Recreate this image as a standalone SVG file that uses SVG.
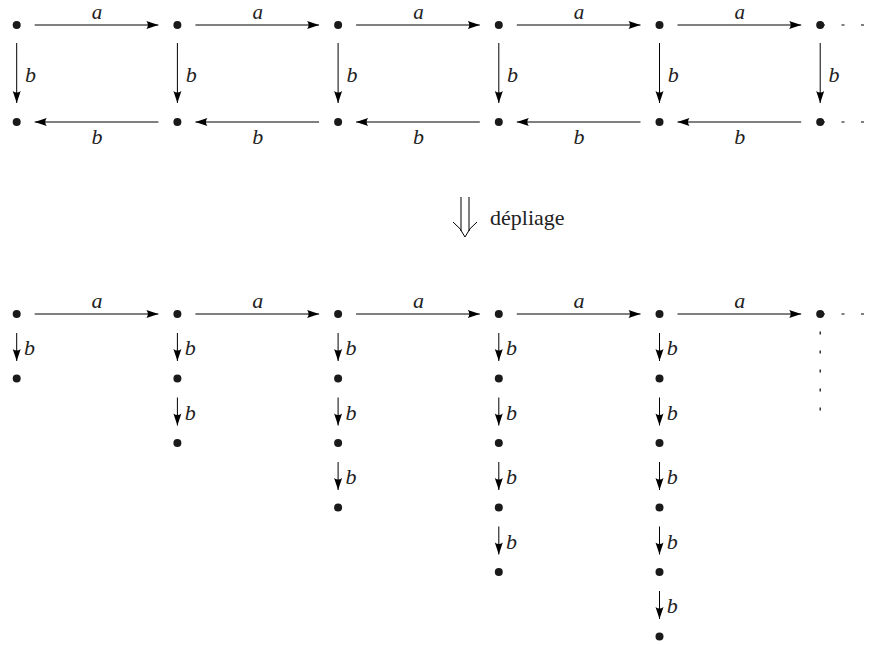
<svg xmlns="http://www.w3.org/2000/svg" width="878" height="645" viewBox="0 0 878 645">
<style>
.n{fill:#1a1a1a}
.e{stroke:#000;stroke-width:1;fill:none}
.ea{stroke:#000;stroke-width:1;fill:none;marker-end:url(#ah)}
.d{stroke:#000;stroke-width:1.2;fill:none;stroke-dasharray:3 16.5}
.dv{stroke:#000;stroke-width:1.2;fill:none;stroke-dasharray:3 16}
.l{font-family:'Liberation Serif','Times New Roman','DejaVu Serif',serif;font-style:italic;font-size:22px;fill:#222}
.lt{font-size:21px}
.lm{text-anchor:middle}
.t{font-family:'Liberation Serif','Times New Roman','DejaVu Serif',serif;font-size:22px;fill:#222}
</style>
<defs>
<marker id="ah" markerUnits="userSpaceOnUse" viewBox="-13 -5 14 10" refX="0" refY="0" markerWidth="14" markerHeight="10" orient="auto">
<path d="M0,0 L-12,-4 Q-9,0 -12,4 Z" fill="#000"/>
</marker>
</defs>
<g id="connectors">
<path class="ea" d="M34.7,25 H158.4"/>
<path class="ea" d="M195.4,25 H319.1"/>
<path class="ea" d="M356.1,25 H479.8"/>
<path class="ea" d="M516.8,25 H640.5"/>
<path class="ea" d="M677.5,25 H801.2"/>
<path class="ea" d="M16.7,43 V103"/>
<path class="ea" d="M177.4,43 V103"/>
<path class="ea" d="M338.1,43 V103"/>
<path class="ea" d="M498.8,43 V103"/>
<path class="ea" d="M659.5,43 V103"/>
<path class="ea" d="M820.2,43 V103"/>
<path class="ea" d="M158.4,122 H34.7"/>
<path class="ea" d="M319.1,122 H195.4"/>
<path class="ea" d="M479.8,122 H356.1"/>
<path class="ea" d="M640.5,122 H516.8"/>
<path class="ea" d="M801.2,122 H677.5"/>
<path class="d" d="M822,25 H866"/>
<path class="d" d="M822,122 H866"/>
<path class="d" d="M822,314 H866"/>
<path class="dv" d="M820.2,331.5 V411"/>
<path class="e" d="M461,197 V231 M469,197 V231" stroke-width="1.2"/>
<path class="e" d="M453,222 Q461,228 465,237 Q469,228 477,222" stroke-width="1.2"/>
<path class="ea" d="M34.7,314 H158.4"/>
<path class="ea" d="M195.4,314 H319.1"/>
<path class="ea" d="M356.1,314 H479.8"/>
<path class="ea" d="M516.8,314 H640.5"/>
<path class="ea" d="M677.5,314 H801.2"/>
<path class="ea" d="M16.7,333 V361"/>
<path class="ea" d="M177.4,333 V361"/>
<path class="ea" d="M177.4,397.5 V425.5"/>
<path class="ea" d="M338.1,333 V361"/>
<path class="ea" d="M338.1,397.5 V425.5"/>
<path class="ea" d="M338.1,462 V490"/>
<path class="ea" d="M498.8,333 V361"/>
<path class="ea" d="M498.8,397.5 V425.5"/>
<path class="ea" d="M498.8,462 V490"/>
<path class="ea" d="M498.8,526.5 V554.5"/>
<path class="ea" d="M659.5,333 V361"/>
<path class="ea" d="M659.5,397.5 V425.5"/>
<path class="ea" d="M659.5,462 V490"/>
<path class="ea" d="M659.5,526.5 V554.5"/>
<path class="ea" d="M659.5,591 V619"/>
</g>
<g id="labels">
<text class="l lt lm" x="97" y="19">a</text>
<text class="l lt lm" x="257.7" y="19">a</text>
<text class="l lt lm" x="418.4" y="19">a</text>
<text class="l lt lm" x="579.1" y="19">a</text>
<text class="l lt lm" x="739.8" y="19">a</text>
<text class="l" x="25" y="82">b</text>
<text class="l" x="185.7" y="82">b</text>
<text class="l" x="346.4" y="82">b</text>
<text class="l" x="507.1" y="82">b</text>
<text class="l" x="667.8" y="82">b</text>
<text class="l" x="828.5" y="82">b</text>
<text class="l lm" x="97" y="144">b</text>
<text class="l lm" x="257.7" y="144">b</text>
<text class="l lm" x="418.4" y="144">b</text>
<text class="l lm" x="579.1" y="144">b</text>
<text class="l lm" x="739.8" y="144">b</text>
<text class="t" x="490" y="225">dépliage</text>
<text class="l lm" x="97" y="308">a</text>
<text class="l lm" x="257.7" y="308">a</text>
<text class="l lm" x="418.4" y="308">a</text>
<text class="l lm" x="579.1" y="308">a</text>
<text class="l lm" x="739.8" y="308">a</text>
<text class="l" x="24" y="355">b</text>
<text class="l" x="184.7" y="355">b</text>
<text class="l" x="184.7" y="419.5">b</text>
<text class="l" x="345.4" y="355">b</text>
<text class="l" x="345.4" y="419.5">b</text>
<text class="l" x="345.4" y="484">b</text>
<text class="l" x="506.1" y="355">b</text>
<text class="l" x="506.1" y="419.5">b</text>
<text class="l" x="506.1" y="484">b</text>
<text class="l" x="506.1" y="548.5">b</text>
<text class="l" x="666.8" y="355">b</text>
<text class="l" x="666.8" y="419.5">b</text>
<text class="l" x="666.8" y="484">b</text>
<text class="l" x="666.8" y="548.5">b</text>
<text class="l" x="666.8" y="613">b</text>
</g>
<g id="nodes">
<g id="t0"><circle class="n" cx="16.7" cy="25" r="4"/></g>
<g id="t1"><circle class="n" cx="177.4" cy="25" r="4"/></g>
<g id="t2"><circle class="n" cx="338.1" cy="25" r="4"/></g>
<g id="t3"><circle class="n" cx="498.8" cy="25" r="4"/></g>
<g id="t4"><circle class="n" cx="659.5" cy="25" r="4"/></g>
<g id="t5"><circle class="n" cx="820.2" cy="25" r="4"/></g>
<g id="u0"><circle class="n" cx="16.7" cy="122" r="4"/></g>
<g id="u1"><circle class="n" cx="177.4" cy="122" r="4"/></g>
<g id="u2"><circle class="n" cx="338.1" cy="122" r="4"/></g>
<g id="u3"><circle class="n" cx="498.8" cy="122" r="4"/></g>
<g id="u4"><circle class="n" cx="659.5" cy="122" r="4"/></g>
<g id="u5"><circle class="n" cx="820.2" cy="122" r="4"/></g>
<g id="r0"><circle class="n" cx="16.7" cy="314" r="4"/></g>
<g id="r1"><circle class="n" cx="177.4" cy="314" r="4"/></g>
<g id="r2"><circle class="n" cx="338.1" cy="314" r="4"/></g>
<g id="r3"><circle class="n" cx="498.8" cy="314" r="4"/></g>
<g id="r4"><circle class="n" cx="659.5" cy="314" r="4"/></g>
<g id="r5"><circle class="n" cx="820.2" cy="314" r="4"/></g>
<g id="c0_1"><circle class="n" cx="16.7" cy="378.5" r="4"/></g>
<g id="c1_1"><circle class="n" cx="177.4" cy="378.5" r="4"/></g>
<g id="c1_2"><circle class="n" cx="177.4" cy="443" r="4"/></g>
<g id="c2_1"><circle class="n" cx="338.1" cy="378.5" r="4"/></g>
<g id="c2_2"><circle class="n" cx="338.1" cy="443" r="4"/></g>
<g id="c2_3"><circle class="n" cx="338.1" cy="507.5" r="4"/></g>
<g id="c3_1"><circle class="n" cx="498.8" cy="378.5" r="4"/></g>
<g id="c3_2"><circle class="n" cx="498.8" cy="443" r="4"/></g>
<g id="c3_3"><circle class="n" cx="498.8" cy="507.5" r="4"/></g>
<g id="c3_4"><circle class="n" cx="498.8" cy="572" r="4"/></g>
<g id="c4_1"><circle class="n" cx="659.5" cy="378.5" r="4"/></g>
<g id="c4_2"><circle class="n" cx="659.5" cy="443" r="4"/></g>
<g id="c4_3"><circle class="n" cx="659.5" cy="507.5" r="4"/></g>
<g id="c4_4"><circle class="n" cx="659.5" cy="572" r="4"/></g>
<g id="c4_5"><circle class="n" cx="659.5" cy="636.5" r="4"/></g>
</g>
</svg>
